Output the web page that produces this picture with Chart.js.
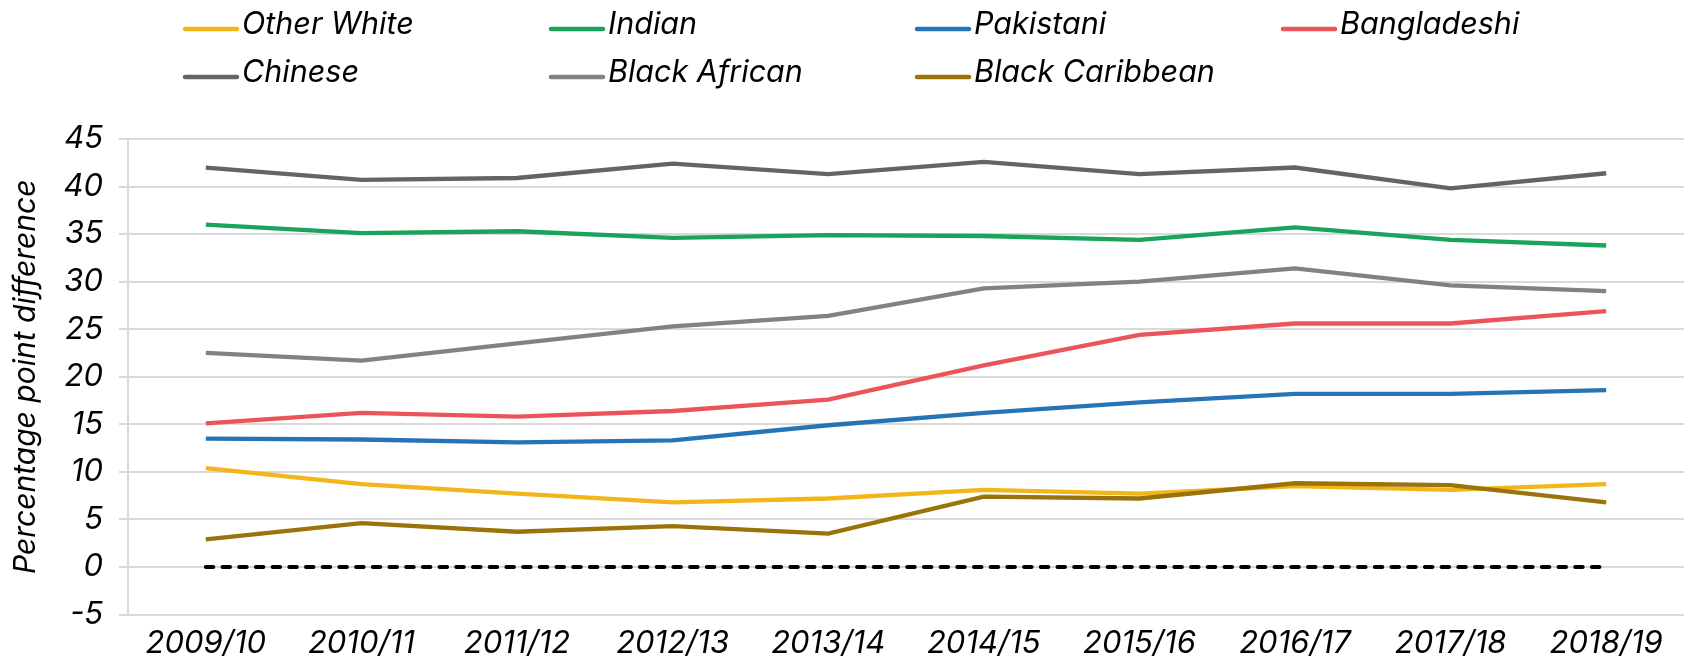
<!DOCTYPE html>
<html>
<head>
<meta charset="utf-8">
<script src="https://cdn.jsdelivr.net/npm/chart.js@4.4.1/dist/chart.umd.min.js"></script>
<style>
  html, body { margin: 0; padding: 0; background: #fff; }
  #wrap { width: 1684px; height: 664px; }
</style>
</head>
<body>
<div id="wrap"><canvas id="gapChart"></canvas></div>
<script>
// values (percentage point difference)
const years = ['2009/10', '2010/11', '2011/12', '2012/13', '2013/14', '2014/15', '2015/16', '2016/17', '2017/18', '2018/19'];
const otherWhite = [10.4, 8.7, 7.7, 6.8, 7.2, 8.1, 7.7, 8.5, 8.1, 8.7];
const indian = [36.0, 35.1, 35.3, 34.6, 34.9, 34.8, 34.4, 35.7, 34.4, 33.8];
const pakistani = [13.5, 13.4, 13.1, 13.3, 14.9, 16.2, 17.3, 18.2, 18.2, 18.6];
const bangladeshi = [15.1, 16.2, 15.8, 16.4, 17.6, 21.2, 24.4, 25.6, 25.6, 26.9];
const chinese = [42.0, 40.7, 40.9, 42.4, 41.3, 42.6, 41.3, 42.0, 39.8, 41.4];
const blackAfrican = [22.5, 21.7, 23.5, 25.3, 26.4, 29.3, 30.0, 31.4, 29.6, 29.0];
const blackCaribbean = [2.9, 4.6, 3.7, 4.3, 3.5, 7.4, 7.2, 8.8, 8.6, 6.8];
const zeroLine = [0, 0, 0, 0, 0, 0, 0, 0, 0, 0];

const yMin = -5;
const yMax = 45;
const yStep = 5;

const seriesNames = ['Other White', 'Indian', 'Pakistani', 'Bangladeshi', 'Chinese', 'Black African', 'Black Caribbean'];
const seriesData = [otherWhite, indian, pakistani, bangladeshi, chinese, blackAfrican, blackCaribbean];
const seriesColors = ['#F2B61A', '#1AA35B', '#2673B6', '#EB555A', '#646464', '#828282', '#9A740A'];

const datasets = seriesNames.map((name, i) => ({
    label: name,
    data: seriesData[i],
    borderColor: seriesColors[i],
    backgroundColor: seriesColors[i],
    borderWidth: 4.3,
    pointRadius: 0,
    tension: 0,
    inLegend: true,
    order: seriesNames.length - i // later series drawn on top, like Excel
}));

datasets.push({
    label: 'zero',
    data: zeroLine,
    borderColor: '#000',
    borderWidth: 4,
    borderDash: [7.5, 9.2],
    borderCapStyle: 'round',
    pointRadius: 0,
    inLegend: false,
    order: 0
});

// legend laid out on a fixed grid (4 columns) like the original
const gridLegend = {
    id: 'gridLegend',
    afterDraw(chart, args, opts) {
        const ctx = chart.ctx;
        const items = chart.data.datasets.filter(d => d.inLegend);
        ctx.save();
        ctx.font = opts.font;
        ctx.textBaseline = 'middle';
        ctx.textAlign = 'left';
        items.forEach((ds, i) => {
            const col = i % opts.columns;
            const row = Math.floor(i / opts.columns);
            const x = opts.left + col * opts.colWidth;
            const y = opts.top + row * opts.rowHeight;
            ctx.strokeStyle = ds.borderColor;
            ctx.lineWidth = 4.5;
            ctx.lineCap = 'round';
            ctx.beginPath();
            ctx.moveTo(x + 2, y + 4);
            ctx.lineTo(x + 54, y + 4);
            ctx.stroke();
            ctx.fillStyle = '#000';
            ctx.fillText(ds.label, x + 59, y);
        });
        ctx.restore();
    }
};

const ctx = document.getElementById('gapChart').getContext('2d');
const gapChart = new Chart(ctx, {
    type: 'line',
    data: {
        labels: years,
        datasets: datasets
    },
    plugins: [gridLegend],
    options: {
        responsive: true,
        maintainAspectRatio: false,
        animation: false,
        devicePixelRatio: 1,
        layout: {
            padding: { top: 139, left: 0, right: 0, bottom: 3 }
        },
        plugins: {
            legend: { display: false },
            tooltip: { enabled: false },
            gridLegend: {
                font: 'italic 30.5px Inter',
                left: 183,
                top: 25,
                columns: 4,
                colWidth: 366,
                rowHeight: 48
            }
        },
        scales: {
            x: {
                offset: true,
                grid: { display: false, drawTicks: false },
                border: { display: false },
                afterFit: (scale) => { scale.height = 46.5; },
                ticks: {
                    color: '#000',
                    padding: 11,
                    maxRotation: 0,
                    font: { family: 'Inter', size: 31, style: 'italic' }
                }
            },
            y: {
                min: yMin,
                max: yMax,
                afterFit: (scale) => { scale.width = 128; },
                ticks: {
                    stepSize: yStep,
                    color: '#000',
                    padding: 16,
                    font: { family: 'Inter', size: 31, style: 'italic' }
                },
                grid: {
                    color: '#d9d9d9',
                    lineWidth: 2,
                    tickLength: 9
                },
                border: { color: '#d9d9d9', width: 2 },
                title: {
                    display: true,
                    text: 'Percentage point difference',
                    color: '#000',
                    padding: { top: 8, bottom: 0 },
                    font: { family: 'Inter', size: 30, style: 'italic' }
                }
            }
        }
    }
});
</script>
</body>
</html>
